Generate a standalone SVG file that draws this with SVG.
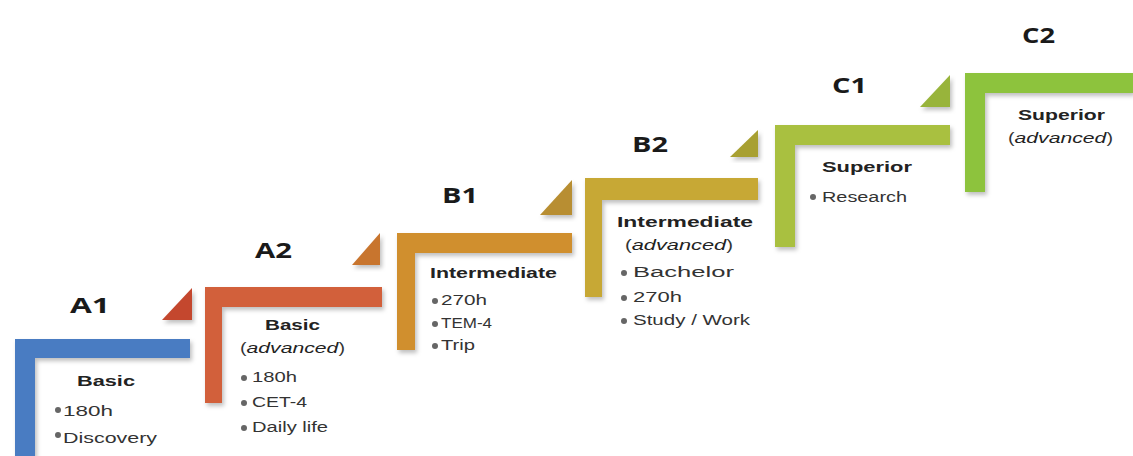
<svg xmlns="http://www.w3.org/2000/svg" width="1133" height="456" viewBox="0 0 1133 456">
<defs>
<filter id="sh" x="-10%" y="-10%" width="130%" height="130%">
<feDropShadow dx="2" dy="3" stdDeviation="2" flood-color="#000" flood-opacity="0.25"/>
</filter>
</defs>
<style>
.lv{font-family:"Open Sans","Liberation Sans",sans-serif;font-weight:bold;font-size:22px;fill:#1a1a1a}
.t{font-family:"Liberation Sans",Arial,sans-serif;font-weight:bold;font-size:15px;fill:#222}
.i{font-family:"Liberation Sans",Arial,sans-serif;font-style:italic;font-size:15px;fill:#222}
.b{font-family:"Liberation Sans",Arial,sans-serif;font-size:14px;fill:#333}
.dot{fill:#666}
.bar{filter:url(#sh)}
</style>
<rect width="1133" height="456" fill="#fff"/>
<g id="A1">
<path class="bar" d="M15,339 H190 V358 H35 V456 H15 Z" fill="#4A7CC2"/>
<polygon points="192,288 192,320 162,320" fill="#C4472E" class="bar"/>
<text class="lv" x="70" y="313" textLength="40" lengthAdjust="spacingAndGlyphs">A1</text>
<text class="t" x="77" y="386" textLength="58" lengthAdjust="spacingAndGlyphs">Basic</text>
<circle class="dot" cx="58" cy="410" r="3"/>
<text class="b" x="63" y="416" textLength="50" lengthAdjust="spacingAndGlyphs">180h</text>
<circle class="dot" cx="58" cy="435" r="3"/>
<text class="b" x="63" y="443" textLength="94" lengthAdjust="spacingAndGlyphs">Discovery</text>
</g>
<g id="A2">
<path class="bar" d="M205,287 H382 V307 H222 V403 H205 Z" fill="#D2603A"/>
<polygon points="380,233 380,265 352,265" fill="#C8742E" class="bar"/>
<text class="lv" x="255" y="258" textLength="37" lengthAdjust="spacingAndGlyphs">A2</text>
<text class="t" x="265" y="330" textLength="55" lengthAdjust="spacingAndGlyphs">Basic</text>
<text class="b" x="240" y="353" textLength="105" lengthAdjust="spacingAndGlyphs">(<tspan class="i">advanced</tspan>)</text>
<circle class="dot" cx="244" cy="378" r="3"/>
<text class="b" x="252" y="382" textLength="45" lengthAdjust="spacingAndGlyphs">180h</text>
<circle class="dot" cx="244" cy="403" r="3"/>
<text class="b" x="252" y="407" textLength="55" lengthAdjust="spacingAndGlyphs">CET-4</text>
<circle class="dot" cx="244" cy="428" r="3"/>
<text class="b" x="252" y="432" textLength="76" lengthAdjust="spacingAndGlyphs">Daily life</text>
</g>
<g id="B1">
<path class="bar" d="M397,233 H572 V253 H415 V350 H397 Z" fill="#D08F2F"/>
<polygon points="572,180 572,215 540,215" fill="#B88E30" class="bar"/>
<text class="lv" x="442" y="203" textLength="36" lengthAdjust="spacingAndGlyphs">B1</text>
<text class="t" x="430" y="278" textLength="127" lengthAdjust="spacingAndGlyphs">Intermediate</text>
<circle class="dot" cx="435" cy="301" r="3"/>
<text class="b" x="441" y="305" textLength="46" lengthAdjust="spacingAndGlyphs">270h</text>
<circle class="dot" cx="435" cy="324" r="3"/>
<text class="b" x="441" y="328" textLength="51" lengthAdjust="spacingAndGlyphs">TEM-4</text>
<circle class="dot" cx="435" cy="346" r="3"/>
<text class="b" x="441" y="350" textLength="34" lengthAdjust="spacingAndGlyphs">Trip</text>
</g>
<g id="B2">
<path class="bar" d="M585,178 H758 V200 H602 V297 H585 Z" fill="#C7A834"/>
<polygon points="758,130 758,157 730,157" fill="#A8A032" class="bar"/>
<text class="lv" x="632" y="152" textLength="36" lengthAdjust="spacingAndGlyphs">B2</text>
<text class="t" x="617" y="227" textLength="136" lengthAdjust="spacingAndGlyphs">Intermediate</text>
<text class="b" x="625" y="250" textLength="108" lengthAdjust="spacingAndGlyphs">(<tspan class="i">advanced</tspan>)</text>
<circle class="dot" cx="624" cy="273" r="3"/>
<text class="b" x="633" y="277" textLength="101" lengthAdjust="spacingAndGlyphs">Bachelor</text>
<circle class="dot" cx="624" cy="298" r="3"/>
<text class="b" x="633" y="302" textLength="49" lengthAdjust="spacingAndGlyphs">270h</text>
<circle class="dot" cx="624" cy="321" r="3"/>
<text class="b" x="633" y="325" textLength="117" lengthAdjust="spacingAndGlyphs">Study / Work</text>
</g>
<g id="C1">
<path class="bar" d="M775,125 H950 V145 H795 V247 H775 Z" fill="#A9C03F"/>
<polygon points="950,75 950,107 920,107" fill="#98B43A" class="bar"/>
<text class="lv" x="832" y="93" textLength="35" lengthAdjust="spacingAndGlyphs">C1</text>
<text class="t" x="822" y="172" textLength="90" lengthAdjust="spacingAndGlyphs">Superior</text>
<circle class="dot" cx="813" cy="197" r="3"/>
<text class="b" x="822" y="202" textLength="85" lengthAdjust="spacingAndGlyphs">Research</text>
</g>
<g id="C2">
<path class="bar" d="M965,73 H1133 V93 H985 V192 H965 Z" fill="#8DC33E"/>
<text class="lv" x="1022" y="43" textLength="33" lengthAdjust="spacingAndGlyphs">C2</text>
<text class="t" x="1018" y="120" textLength="87" lengthAdjust="spacingAndGlyphs">Superior</text>
<text class="b" x="1008" y="143" textLength="105" lengthAdjust="spacingAndGlyphs">(<tspan class="i">advanced</tspan>)</text>
</g>
<g id="connectors"/>
</svg>
